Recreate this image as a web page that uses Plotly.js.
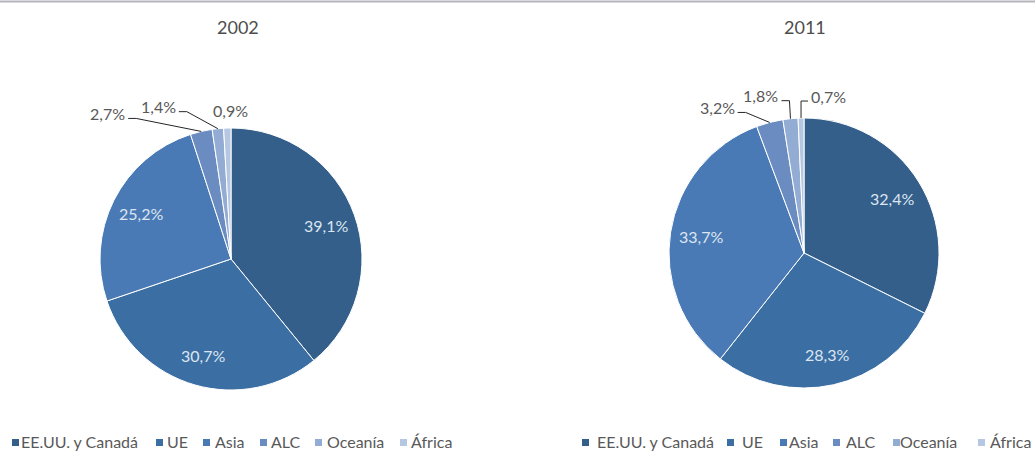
<!DOCTYPE html>
<html><head><meta charset="utf-8">
<script src="https://cdn.plot.ly/plotly-3.0.1.min.js"></script>
<style>html,body{margin:0;padding:0;background:#fff}#chart{width:1035px;height:452px}</style>
</head><body><div id="chart"></div>
<script>
// ---- data ----
const regions = ["EE.UU. y Canadá", "UE", "Asia", "ALC", "Oceanía", "África"];
const values2002 = [39.1, 30.7, 25.2, 2.7, 1.4, 0.9];
const values2011 = [32.4, 28.3, 33.7, 3.2, 1.8, 0.7];
const years = ["2002", "2011"];

// ---- styling / layout ----
const colors = ["#335f8a", "#3b6ea3", "#4a7ab5", "#6a8cc0", "#93acd3", "#b6c7e2"];
const W = 1035, H = 452;
const FONT = "Lato, 'Open Sans', sans-serif";
const pieGeom = [{cx: 231, cy: 259, r: 131}, {cx: 804, cy: 253, r: 135}];
const titlePos = [{x: 238, y: 27}, {x: 805, y: 27}];
// label offsets (px) relative to slice rim point, for small slices
const outsideSpec = [
  {3: {side: "L", dx: -73, dy: -13}, 4: {side: "L", dx: -39, dy: -17}, 5: {side: "C", dx: 3, dy: -18}},
  {3: {side: "L", dx: -32, dy: -10}, 4: {side: "L", dx: -9, dy: -18}, 5: {side: "R", dx: 7, dy: -17}}
];
const legendSquares = [[12, 156, 203, 260, 315, 400], [582, 727, 780, 833, 893, 978]];
const legendTexts = [[21, 167, 215, 271, 327, 411], [597, 742, 789, 846, 900, 990]];

const fmt = v => v.toFixed(1).replace(".", ",") + "%";
const px = x => x / W, py = y => 1 - y / H;

const allValues = [values2002, values2011];
const data = [], annotations = [], shapes = [];

shapes.push({type: "line", xref: "paper", yref: "paper", x0: 0, x1: 1, y0: py(1.5), y1: py(1.5),
  line: {color: "#b5b5bd", width: 2}});

allValues.forEach((vals, k) => {
  const g = pieGeom[k];
  data.push({
    type: "pie", values: vals, labels: regions, sort: false, direction: "clockwise", rotation: 0,
    marker: {colors: colors, line: {color: "#ffffff", width: 1}},
    textinfo: "none", textposition: "none", showlegend: false,
    domain: {x: [px(g.cx - g.r), px(g.cx + g.r)], y: [py(g.cy + g.r), py(g.cy - g.r)]},
    hoverinfo: "label+percent"
  });
  annotations.push({text: years[k], x: px(titlePos[k].x), y: py(titlePos[k].y), xref: "paper", yref: "paper",
    showarrow: false, xanchor: "center", yanchor: "middle", font: {family: FONT, size: 18, color: "#4d4d4d"}});

  const total = vals.reduce((a, b) => a + b, 0);
  let cum = 0;
  vals.forEach((v, i) => {
    const th = 2 * Math.PI * (cum + v / 2) / total;
    cum += v;
    const s = Math.sin(th), c = Math.cos(th);
    const spec = outsideSpec[k][i];
    if (!spec) {
      const rr = 0.77 * g.r;
      annotations.push({text: fmt(v), x: px(g.cx + rr * s), y: py(g.cy - rr * c), xref: "paper", yref: "paper",
        showarrow: false, xanchor: "center", yanchor: "middle", font: {family: FONT, size: 16, color: "#dce5f1"}});
      return;
    }
    const rimX = g.cx + g.r * s, rimY = g.cy - g.r * c;
    const ex = rimX + spec.dx, ey = rimY + spec.dy;
    if (spec.side === "C") {
      annotations.push({text: fmt(v), x: px(ex), y: py(ey), xref: "paper", yref: "paper",
        showarrow: false, xanchor: "center", yanchor: "middle", font: {family: FONT, size: 16, color: "#595959"}});
      return;
    }
    const elbowX = spec.side === "L" ? Math.min(ex + 8, rimX) : Math.max(ex - 8, rimX);
    shapes.push({type: "path", xref: "paper", yref: "paper",
      path: `M ${px(rimX)} ${py(rimY)} L ${px(elbowX)} ${py(ey)} L ${px(ex)} ${py(ey)}`,
      line: {color: "#262626", width: 1}});
    annotations.push({text: fmt(v), x: px(spec.side === "L" ? ex - 1 : ex + 1), y: py(ey - 5), xref: "paper", yref: "paper",
      showarrow: false, xanchor: spec.side === "L" ? "right" : "left", yanchor: "middle",
      font: {family: FONT, size: 16, color: "#595959"}});
  });

  regions.forEach((name, i) => {
    const sx = legendSquares[k][i];
    shapes.push({type: "rect", xref: "paper", yref: "paper", x0: px(sx), x1: px(sx + 7), y0: py(446), y1: py(439),
      fillcolor: colors[i], line: {width: 0}});
    annotations.push({text: name, x: px(legendTexts[k][i] - 1), y: py(441), xref: "paper", yref: "paper",
      showarrow: false, xanchor: "left", yanchor: "middle", borderpad: 0,
      font: {family: FONT, size: 16, color: "#595959"}});
  });
});

const layout = {
  width: W, height: H, margin: {l: 0, r: 0, t: 0, b: 0},
  paper_bgcolor: "#fff", font: {family: FONT}, showlegend: false,
  annotations: annotations, shapes: shapes
};
Plotly.newPlot("chart", data, layout, {displayModeBar: false, staticPlot: true});
</script></body></html>
